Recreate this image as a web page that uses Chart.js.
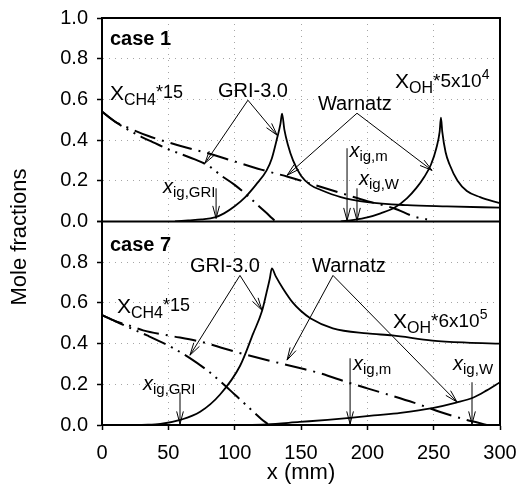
<!DOCTYPE html>
<html>
<head>
<meta charset="utf-8">
<script src="https://cdn.jsdelivr.net/npm/chart.js@4.4.0/dist/chart.umd.min.js"></script>
<style>
  html, body { margin: 0; padding: 0; background: #fff; }
</style>
</head>
<body>
<canvas id="molChart" width="518" height="484"></canvas>
<script>
// ---- data (x in mm, mole fraction scaled) ----
// case 1 (top panel)
var xCh4GriTop = [0, 10, 20, 30, 40, 50, 60, 70, 80, 90, 100, 110, 120, 126, 130];
var yCh4GriTop = [0.54, 0.49, 0.45, 0.415, 0.385, 0.355, 0.33, 0.305, 0.275, 0.225, 0.18, 0.125, 0.065, 0.03, 0.005];
var xCh4WarTop = [0, 10, 20, 35, 60, 80, 100, 120, 140, 160, 180, 200, 220, 235, 245];
var yCh4WarTop = [0.54, 0.49, 0.46, 0.42, 0.37, 0.335, 0.295, 0.255, 0.22, 0.18, 0.14, 0.10, 0.065, 0.025, 0.01];
var xOhGriTop = [55, 65, 75, 85, 92, 100, 108, 116, 124, 128, 132, 134.5, 135.7, 137.5, 140, 144, 150, 157, 165, 180, 200, 230, 260, 300];
var yOhGriTop = [0.0, 0.005, 0.01, 0.02, 0.04, 0.075, 0.12, 0.18, 0.25, 0.31, 0.41, 0.48, 0.53, 0.45, 0.38, 0.30, 0.225, 0.18, 0.155, 0.12, 0.095, 0.08, 0.074, 0.068];
var xOhWarTop = [180, 190, 200, 210, 221, 230, 237, 243, 248, 252, 254.5, 255.5, 256.5, 259, 262, 268, 275, 285, 300];
var yOhWarTop = [0.0, 0.008, 0.02, 0.04, 0.07, 0.115, 0.165, 0.22, 0.28, 0.36, 0.44, 0.51, 0.44, 0.34, 0.28, 0.20, 0.15, 0.12, 0.09];

// case 7 (bottom panel)
var xCh4GriBot = [0, 10, 20, 34, 53, 66, 80, 90, 100, 110, 120, 125];
var yCh4GriBot = [0.54, 0.51, 0.48, 0.44, 0.38, 0.33, 0.265, 0.21, 0.15, 0.09, 0.03, 0.005];
var xCh4WarBot = [0, 10, 20, 31, 50, 74, 90, 106, 130, 149, 164, 185, 200, 217, 235, 255, 275, 283, 290];
var yCh4WarBot = [0.54, 0.51, 0.49, 0.465, 0.44, 0.41, 0.38, 0.35, 0.31, 0.28, 0.255, 0.21, 0.18, 0.147, 0.11, 0.064, 0.025, 0.012, 0.0];
var xOhGriBot = [30, 44, 59, 74, 89, 104, 114, 120.6, 124, 126.5, 128, 131, 136.5, 144, 150, 157, 174, 200, 219, 249, 275, 300];
var yOhGriBot = [0.0, 0.005, 0.025, 0.065, 0.15, 0.29, 0.45, 0.56, 0.65, 0.72, 0.77, 0.73, 0.67, 0.60, 0.56, 0.525, 0.475, 0.45, 0.44, 0.415, 0.405, 0.40];
var xOhWarBot = [100, 124, 149, 170, 187, 205, 225, 249, 267, 280, 290, 300];
var yOhWarBot = [0.0, 0.003, 0.015, 0.025, 0.035, 0.047, 0.06, 0.083, 0.11, 0.135, 0.17, 0.21];

var xTicks = [0, 50, 100, 150, 200, 250, 300];
var yTicks = [0.0, 0.2, 0.4, 0.6, 0.8, 1.0];

var FONT = '"Liberation Sans", Arial, sans-serif';

function pts(xs, ys) {
    var out = [];
    for (var i = 0; i < xs.length; i++) out.push({ x: xs[i], y: ys[i] });
    return out;
}

function series(xs, ys, axis, dash, width) {
    return {
        data: pts(xs, ys),
        yAxisID: axis,
        borderColor: '#000',
        borderWidth: width,
        borderDash: dash,
        pointRadius: 0,
        fill: false,
        cubicInterpolationMode: 'monotone'
    };
}

var dashGri = [24, 6, 2, 6, 2, 6];
var dashWar = [22, 7, 2, 7];

// ---- annotation texts and arrows (data coordinates) ----
var notes = [
    ['yTop', 6, 0.867, [['case 1', 20, 0, 'bold']]],
    ['yTop', 6, 0.596, [['X', 21, 0], ['CH4', 16, 5], ['*15', 18, -2]]],
    ['yTop', 87.4, 0.611, [['GRI-3.0', 20, 0]]],
    ['yTop', 162.8, 0.547, [['Warnatz', 20, 0]]],
    ['yTop', 220.9, 0.655, [['X', 21, 0], ['OH', 16, 5], ['*5x10', 19, -1], ['4', 14, -9]]],
    ['yTop', 186.5, 0.315, [['x', 20, 0, 'italic'], ['ig,m', 15, 4]]],
    ['yTop', 193.7, 0.177, [['x', 20, 0, 'italic'], ['ig,W', 15, 4]]],
    ['yTop', 46, 0.138, [['x', 20, 0, 'italic'], ['ig,GRI', 15, 4]]],
    ['yBot', 6, 0.853, [['case 7', 20, 0, 'bold']]],
    ['yBot', 11.3, 0.549, [['X', 21, 0], ['CH4', 16, 5], ['*15', 18, -2]]],
    ['yBot', 66.3, 0.75, [['GRI-3.0', 20, 0]]],
    ['yBot', 158.3, 0.75, [['Warnatz', 20, 0]]],
    ['yBot', 219.4, 0.475, [['X', 21, 0], ['OH', 16, 5], ['*6x10', 19, -1], ['5', 14, -9]]],
    ['yBot', 189.2, 0.27, [['x', 20, 0, 'italic'], ['ig,m', 15, 4]]],
    ['yBot', 264.6, 0.27, [['x', 20, 0, 'italic'], ['ig,W', 15, 4]]],
    ['yBot', 30.9, 0.17, [['x', 20, 0, 'italic'], ['ig,GRI', 15, 4]]]
];

var arrows = [
    ['yTop', 110, 0.596, 77.6, 0.286],
    ['yTop', 110, 0.596, 132, 0.424],
    ['yTop', 192.2, 0.532, 139.5, 0.227],
    ['yTop', 192.2, 0.532, 248.8, 0.251],
    ['yTop', 184.7, 0.36, 184.7, 0.005],
    ['yTop', 192.2, 0.163, 192.2, 0.005],
    ['yTop', 86, 0.163, 86, 0.015],
    ['yBot', 104, 0.735, 66.3, 0.343],
    ['yBot', 104, 0.735, 120.6, 0.564],
    ['yBot', 174.1, 0.735, 139.5, 0.319],
    ['yBot', 174.1, 0.735, 267.6, 0.113],
    ['yBot', 187, 0.328, 187, 0.005],
    ['yBot', 278.9, 0.21, 278.9, 0.005],
    ['yBot', 58.8, 0.16, 58.8, 0.005]
];

var decorations = {
    id: 'decorations',
    afterDatasetsDraw: function (chart) {
        var ctx = chart.ctx;
        var a = chart.chartArea;
        var sx = chart.scales.x;
        ctx.save();

        // frame and panel divider
        ctx.strokeStyle = '#000';
        ctx.lineWidth = 2;
        ctx.strokeRect(a.left, a.top, a.right - a.left, a.bottom - a.top);
        var mid = chart.scales.yTop.getPixelForValue(0);
        ctx.beginPath();
        ctx.moveTo(a.left, mid);
        ctx.lineTo(a.right, mid);
        ctx.stroke();

        // arrows
        ctx.lineWidth = 1;
        arrows.forEach(function (r) {
            var sy = chart.scales[r[0]];
            var x0 = sx.getPixelForValue(r[1]), y0 = sy.getPixelForValue(r[2]);
            var x1 = sx.getPixelForValue(r[3]), y1 = sy.getPixelForValue(r[4]);
            var ang = Math.atan2(y1 - y0, x1 - x0);
            ctx.beginPath();
            ctx.moveTo(x0, y0);
            ctx.lineTo(x1, y1);
            var len = 13, spread = 0.26;
            ctx.moveTo(x1 - len * Math.cos(ang - spread), y1 - len * Math.sin(ang - spread));
            ctx.lineTo(x1, y1);
            ctx.lineTo(x1 - len * Math.cos(ang + spread), y1 - len * Math.sin(ang + spread));
            ctx.stroke();
        });

        // texts
        ctx.fillStyle = '#000';
        ctx.textBaseline = 'alphabetic';
        ctx.textAlign = 'left';
        notes.forEach(function (n) {
            var sy = chart.scales[n[0]];
            var x = sx.getPixelForValue(n[1]);
            var y = sy.getPixelForValue(n[2]);
            n[3].forEach(function (p) {
                ctx.font = (p[3] ? p[3] + ' ' : '') + p[1] + 'px ' + FONT;
                ctx.fillText(p[0], x, y + p[2]);
                x += ctx.measureText(p[0]).width;
            });
        });

        // axis titles
        ctx.font = '22px ' + FONT;
        ctx.textAlign = 'center';
        ctx.fillText('x (mm)', (a.left + a.right) / 2, 479);
        ctx.translate(20, 237);
        ctx.rotate(-Math.PI / 2);
        ctx.textBaseline = 'middle';
        ctx.fillText('Mole fractions', 0, 0);
        ctx.restore();
    }
};

function noPad(s) {
    s.paddingLeft = 0;
    s.paddingRight = 0;
    s.paddingTop = 0;
    s.paddingBottom = 0;
}

function yScale(weight, hideTop) {
    return {
        type: 'linear',
        position: 'left',
        stack: 'panels',
        stackWeight: 1,
        weight: weight,
        min: 0,
        max: 1,
        afterFit: function (s) { s.width = 102; noPad(s); },
        afterBuildTicks: function (s) {
            s.ticks = yTicks.map(function (v) { return { value: v }; });
        },
        ticks: {
            color: '#000',
            padding: 9,
            autoSkip: false,
            font: { size: 20, family: FONT },
            callback: function (v) {
                if (hideTop && v > 0.99) return '';
                return Number(v).toFixed(1);
            }
        },
        grid: {
            color: 'rgba(0,0,0,0.35)',
            tickColor: '#000',
            tickLength: 5,
            tickWidth: 1.5
        },
        border: { color: '#000', width: 2, dash: [1, 5] }
    };
}

var ctx = document.getElementById('molChart');
var myChart = new Chart(ctx, {
    type: 'line',
    data: {
        datasets: [
            series(xCh4GriTop, yCh4GriTop, 'yTop', dashGri, 2),
            series(xCh4WarTop, yCh4WarTop, 'yTop', dashWar, 2),
            series(xOhGriTop, yOhGriTop, 'yTop', [], 1.8),
            series(xOhWarTop, yOhWarTop, 'yTop', [], 1.8),
            series(xCh4GriBot, yCh4GriBot, 'yBot', dashGri, 2),
            series(xCh4WarBot, yCh4WarBot, 'yBot', dashWar, 2),
            series(xOhGriBot, yOhGriBot, 'yBot', [], 1.8),
            series(xOhWarBot, yOhWarBot, 'yBot', [], 1.8)
        ]
    },
    options: {
        responsive: false,
        animation: false,
        devicePixelRatio: 1,
        layout: { padding: { top: 18, right: 18, bottom: 0, left: 0 } },
        plugins: {
            legend: { display: false },
            tooltip: { enabled: false }
        },
        scales: {
            x: {
                type: 'linear',
                min: 0,
                max: 300,
                afterFit: function (s) { s.height = 59; noPad(s); },
                afterBuildTicks: function (s) {
                    s.ticks = xTicks.map(function (v) { return { value: v }; });
                },
                ticks: {
                    color: '#000',
                    padding: 11,
                    autoSkip: false,
                    maxRotation: 0,
                    font: { size: 20, family: FONT }
                },
                grid: {
                    color: 'rgba(0,0,0,0.35)',
                    tickColor: '#000',
                    tickLength: 5,
                    tickWidth: 1.5
                },
                border: { color: '#000', width: 2, dash: [1, 5] }
            },
            yBot: yScale(0, true),
            yTop: yScale(1, false)
        }
    },
    plugins: [decorations]
});
</script>
</body>
</html>
